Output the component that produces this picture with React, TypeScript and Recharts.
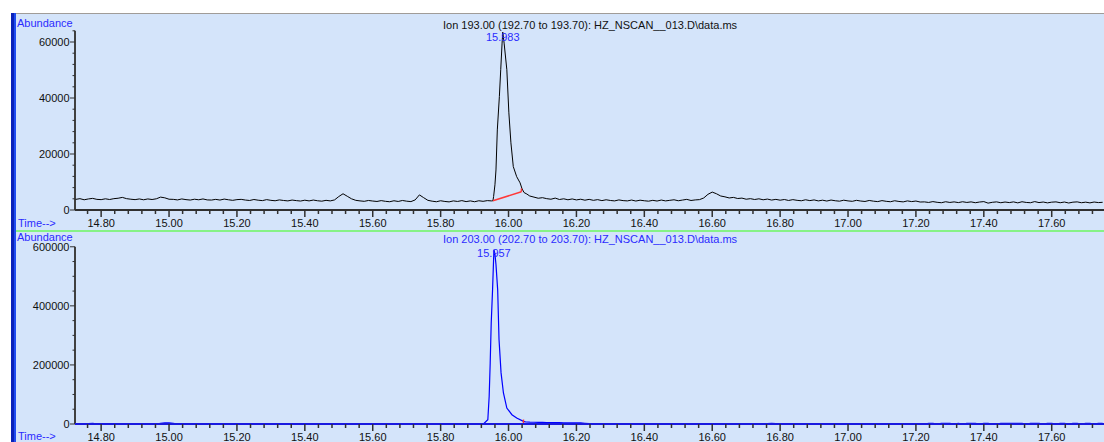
import React from 'react';
import { LineChart, Line, XAxis, YAxis, ReferenceLine, ReferenceDot } from 'recharts';

const FONT = '"Liberation Sans", Arial, sans-serif';
const BG = '#D4E4FA';
const LABEL_BLUE = '#2b2bff';

// time axis
const X_MIN = 14.723;
const X_MAX = 17.754;
const MAJOR_X = [14.8, 15.0, 15.2, 15.4, 15.6, 15.8, 16.0, 16.2, 16.4, 16.6, 16.8, 17.0, 17.2, 17.4, 17.6];

// scans are evenly spaced, values below are read per scan
const SCAN_STEP = 0.0125;
const PRE_START = 14.725;
const TOP_POST_START = 16.0625;
const BOT_POST_START = 16.05;

// Ion 193 trace
const TOP_PRE = [
  3800, 4050, 3650, 3950, 4150, 3800, 3700, 4000, 3750, 4050,
  4200, 4500, 4050, 3850, 3700, 3950, 3650, 3950, 3750, 4000,
  4600, 4350, 3850, 3800, 3600, 3950, 3700, 3550, 3850, 3650,
  3950, 3600, 3550, 3800, 3550, 3900, 3650, 3450, 3700, 3800,
  3550, 3400, 3750, 3500, 3350, 3700, 3450, 3300, 3600, 3400,
  3250, 3550, 3350, 3200, 3500, 3250, 3550, 3300, 3150, 3450,
  3250, 3600, 4800, 5800, 4900, 4000, 3450, 3250, 3100, 3400,
  3200, 3050, 3350, 3100, 2950, 3300, 3050, 3400, 3150, 3000,
  3600, 5400, 4400, 3450, 3150, 2950, 3300, 3050, 2900, 3250,
  3050, 3350, 3000, 3250, 2950, 3300, 3100, 3350, 3250,
];
const TOP_PEAK: [number, number][] = [
  [15.954, 3300], [15.956, 4800], [15.960, 9000], [15.963, 14300], [15.967, 28600],
  [15.973, 40500], [15.977, 50100], [15.981, 59600], [15.983, 63500], [15.987, 59600],
  [15.995, 50100], [16.001, 34700], [16.007, 24000], [16.014, 15500], [16.024, 11900],
  [16.034, 9700], [16.040, 7500], [16.046, 6200], [16.054, 5700],
];
const TOP_POST = [
  5000, 4600, 4200,
  4400, 4050, 3850, 4250, 3750, 4000, 3650, 3950, 3600, 3850,
  3500, 3800, 3450, 3700, 3350, 3650, 3400, 3250, 3600, 3350,
  3250, 3550, 3200, 3500, 3300, 3150, 3450, 3200, 3550, 3250,
  3450, 3650, 3300, 3550, 3800, 3400, 3600, 3700, 4300, 5600,
  6400, 5800, 5000, 4700, 4300, 4500, 4100, 4250, 3850, 4050,
  3750, 4000, 3650, 3900, 3550, 3800, 3500, 3750, 3400, 3700,
  3450, 3300, 3650, 3350, 3600, 3250, 3500, 3200, 3550, 3300,
  3150, 3500, 3250, 3100, 3450, 3200, 3050, 3400, 3150, 3000,
  3350, 3100, 2950, 3300, 3050, 2900, 3250, 3000, 3200, 2850,
  2900, 2700, 3000, 2750, 2600, 2950, 2700, 2900, 2650, 2950,
  2700, 2900, 2600, 2850, 3000, 2450, 2750, 2900, 2600, 2850,
  2650, 2900, 2550, 2950, 2700, 2600, 3000, 2650, 2850, 2550,
  2800, 2900, 2600, 2850, 2500, 2800, 2900, 2600, 2800, 2550,
  2850, 2650, 2750,
];
const TOP_BASELINE: [number, number][] = [[15.954, 3300], [16.038, 6500]];

// Ion 203 trace
const BOT_PRE = [
  0, 0, 0, 1000, 2500, 500, 0, 0, 0, 0,
  0, 0, 0, 0, 1500, 0, 0, 0, 0, 0,
  2500, 3500, 3500, 2500, 0, 0, 0, 0, 0, 0,
  0, 0, 0, 0, 1000, 0, 0, 0, 0, 0,
  0, 0, 0, 0, 0, 0, 0, 0, 0, 0,
  0, 0, 0, 0, 0, 0, 0, 0, 0, 0,
  0, 0, 0, 0, 0, 0, 0, 0, 0, 0,
  0, 0, 0, 0, 0, 0, 0, 0, 1200, 0,
  0, 0, 0, 0, 0, 0, 0, 0, 0, 0,
  0, 0, 0, 0, 0, 0, 0,
];
const BOT_PEAK: [number, number][] = [
  [15.926, 0], [15.939, 14600], [15.943, 93700], [15.946, 206800], [15.949, 342000],
  [15.953, 455000], [15.956, 557000], [15.957, 590000], [15.960, 575000], [15.963, 540000],
  [15.968, 455000], [15.972, 286000], [15.978, 173000], [15.985, 105000], [15.995, 54000],
  [16.010, 31500], [16.024, 20000], [16.044, 8800],
];
const BOT_POST = [
  7500, 6500, 6000, 5500,
  5200, 5000, 4800, 4600, 4500, 4300, 4200, 4000, 3800, 3500,
  2500, 1500, 800, 500, 300, 0, 0, 0, 0, 0,
  0, 0, 0, 0, 0, 0, 0, 0, 0, 0,
  0, 0, 0, 0, 0, 0, 0, 0, 0, 0,
  0, 0, 0, 0, 0, 0, 0, 0, 0, 0,
  0, 0, 0, 1500, 2500, 1000, 0, 0, 0, 0,
  0, 0, 0, 0, 0, 0, 0, 0, 0, 0,
  0, 0, 0, 0, 0, 0, 0, 0, 0, 0,
  0, 0, 0, 0, 0, 0, 0, 0, 0, 0,
  0, 2500, 2500, 0, 2500, 2500, 2500, 0, 2500, 0,
  2500, 2500, 2500, 0, 2500, 2500, 0, 0, 2500, 2500,
  2500, 2500, 2500, 2500, 0, 2500, 2500, 2500, 0, 2500,
  2500, 0, 2500, 2500, 0, 2500, 2500, 0, 2500, 2500,
  0, 2500, 2500,
];
const BOT_BASELINE: [number, number][] = [[15.926, 0], [16.044, 0]];

function buildTrace(pre: number[], peak: [number, number][], postStart: number, post: number[]) {
  return [
    ...pre.map((v, i) => ({ t: PRE_START + i * SCAN_STEP, v })),
    ...peak.map(([t, v]) => ({ t, v })),
    ...post.map((v, i) => ({ t: postStart + i * SCAN_STEP, v })),
  ];
}

const topData = buildTrace(TOP_PRE, TOP_PEAK, TOP_POST_START, TOP_POST);
const botData = buildTrace(BOT_PRE, BOT_PEAK, BOT_POST_START, BOT_POST);

const xTicks: number[] = [];
for (let k = 0; k < 80; k++) {
  const t = +(14.72 + k * 0.04).toFixed(2);
  if (t >= X_MIN && t <= X_MAX) xTicks.push(t);
}
const topYTicks: number[] = [];
for (let v = 0; v <= 64000; v += 4000) topYTicks.push(v);
const botYTicks: number[] = [];
for (let v = 0; v <= 600000; v += 50000) botYTicks.push(v);

function XTick(props: any) {
  const { x, y, payload } = props;
  const v = payload.value as number;
  const major = MAJOR_X.some((m) => Math.abs(m - v) < 1e-6);
  return (
    <g>
      <line x1={x} x2={x} y1={y} y2={y + (major ? 7 : 4)} stroke="#303030" strokeWidth={1.5} />
      {major && (
        <text x={x} y={y + 16.7} textAnchor="middle" fontSize={11} fill="#111" fontFamily={FONT}>
          {v.toFixed(2)}
        </text>
      )}
    </g>
  );
}

const makeYTick = (majorStep: number) => (props: any) => {
  const { x, y, payload } = props;
  const v = payload.value as number;
  const major = v % majorStep === 0;
  return (
    <g>
      <line x1={x - (major ? 5 : 2.5)} x2={x} y1={y} y2={y} stroke="#303030" strokeWidth={1} />
      {major && (
        <text x={x - 5.5} y={y + 4} textAnchor="end" fontSize={11} fill="#111" fontFamily={FONT}>
          {v}
        </text>
      )}
    </g>
  );
};

const topYTick = makeYTick(20000);
const botYTick = makeYTick(200000);

export default function App() {
  return (
    <div style={{ position: 'absolute', left: 0, top: 0, width: 1104, height: 442, background: '#fff', overflow: 'hidden' }}>
      <div style={{ position: 'absolute', left: 16, top: 14, width: 1088, height: 428, background: BG }} />
      <div style={{ position: 'absolute', left: 11, top: 13, width: 1093, height: 1, background: '#a09c98' }} />
      <div style={{ position: 'absolute', left: 11, top: 13, width: 2.5, height: 429, background: '#0a22b8' }} />
      <div style={{ position: 'absolute', left: 13.5, top: 13, width: 2.5, height: 429, background: '#1f4cf0' }} />
      <div style={{ position: 'absolute', left: 16, top: 229.5, width: 1088, height: 2, background: '#86f286' }} />

      <div style={{ position: 'absolute', left: 16, top: 14 }}>
        <LineChart width={1088} height={216} data={topData} margin={{ top: 0, right: 0, bottom: 0, left: 0 }}>
          <XAxis
            dataKey="t"
            type="number"
            domain={[X_MIN, X_MAX]}
            allowDataOverflow
            ticks={xTicks}
            interval={0}
            tickSize={0}
            tickMargin={0}
            height={20}
            axisLine={{ stroke: '#303030', strokeWidth: 2 }}
            tickLine={false}
            tick={XTick}
          />
          <YAxis
            type="number"
            domain={[0, 70000]}
            allowDataOverflow
            ticks={topYTicks}
            interval={0}
            tickSize={0}
            tickMargin={0}
            width={59}
            axisLine={false}
            tickLine={false}
            tick={topYTick}
          />
          <ReferenceLine segment={[{ x: X_MIN, y: 0 }, { x: X_MIN, y: 64000 }]} stroke="#404040" strokeWidth={2} ifOverflow="visible" />
          <Line type="linear" dataKey="v" stroke="#000" strokeWidth={1} dot={false} isAnimationActive={false} />
          <ReferenceLine segment={[{ x: TOP_BASELINE[0][0], y: TOP_BASELINE[0][1] }, { x: TOP_BASELINE[1][0], y: TOP_BASELINE[1][1] }]} stroke="#ff3838" strokeWidth={1.5} ifOverflow="visible" />
          <ReferenceLine segment={[{ x: TOP_BASELINE[1][0], y: TOP_BASELINE[1][1] }, { x: TOP_BASELINE[1][0], y: TOP_BASELINE[1][1] + 1200 }]} stroke="#ff3838" strokeWidth={1.5} ifOverflow="visible" />
          <ReferenceDot x={15.983} y={61600} r={0} fill="none" stroke="none" label={{ value: '15.983', position: 'center', fill: LABEL_BLUE, fontSize: 11, fontFamily: FONT }} />
        </LineChart>
      </div>

      <div style={{ position: 'absolute', left: 16, top: 231 }}>
        <LineChart width={1088} height={211} data={botData} margin={{ top: 1, right: 0, bottom: 0, left: 0 }}>
          <XAxis
            dataKey="t"
            type="number"
            domain={[X_MIN, X_MAX]}
            allowDataOverflow
            ticks={xTicks}
            interval={0}
            tickSize={0}
            tickMargin={0}
            height={18}
            axisLine={{ stroke: '#1a1ae0', strokeWidth: 2 }}
            tickLine={false}
            tick={XTick}
          />
          <YAxis
            type="number"
            domain={[0, 650000]}
            allowDataOverflow
            ticks={botYTicks}
            interval={0}
            tickSize={0}
            tickMargin={0}
            width={59}
            axisLine={false}
            tickLine={false}
            tick={botYTick}
          />
          <ReferenceLine segment={[{ x: X_MIN, y: 0 }, { x: X_MIN, y: 600000 }]} stroke="#404040" strokeWidth={2} ifOverflow="visible" />
          <Line type="linear" dataKey="v" stroke="#0000ff" strokeWidth={1.2} dot={false} isAnimationActive={false} />
          <ReferenceLine segment={[{ x: BOT_BASELINE[0][0], y: BOT_BASELINE[0][1] }, { x: BOT_BASELINE[1][0], y: BOT_BASELINE[1][1] }]} stroke="#ff3030" strokeWidth={2} ifOverflow="visible" />
          <ReferenceLine segment={[{ x: BOT_BASELINE[1][0], y: 0 }, { x: BOT_BASELINE[1][0], y: 15000 }]} stroke="#ff3030" strokeWidth={1.5} ifOverflow="visible" />
          <ReferenceDot x={15.957} y={579600} r={0} fill="none" stroke="none" label={{ value: '15.957', position: 'center', fill: LABEL_BLUE, fontSize: 11, fontFamily: FONT }} />
        </LineChart>
      </div>

      <svg width={1104} height={442} style={{ position: 'absolute', left: 0, top: 0, pointerEvents: 'none' }} fontFamily={FONT} fontSize={11}>
        <text x={17} y={26.5} fill={LABEL_BLUE}>Abundance</text>
        <text x={443} y={28.5} fill="#111">Ion 193.00 (192.70 to 193.70): HZ_NSCAN__013.D\data.ms</text>
        <text x={18} y={226.5} fill={LABEL_BLUE}>Time--&gt;</text>
        <text x={17} y={241} fill={LABEL_BLUE}>Abundance</text>
        <text x={443} y={243} fill={LABEL_BLUE}>Ion 203.00 (202.70 to 203.70): HZ_NSCAN__013.D\data.ms</text>
        <text x={18} y={440} fill={LABEL_BLUE}>Time--&gt;</text>
      </svg>
    </div>
  );
}
